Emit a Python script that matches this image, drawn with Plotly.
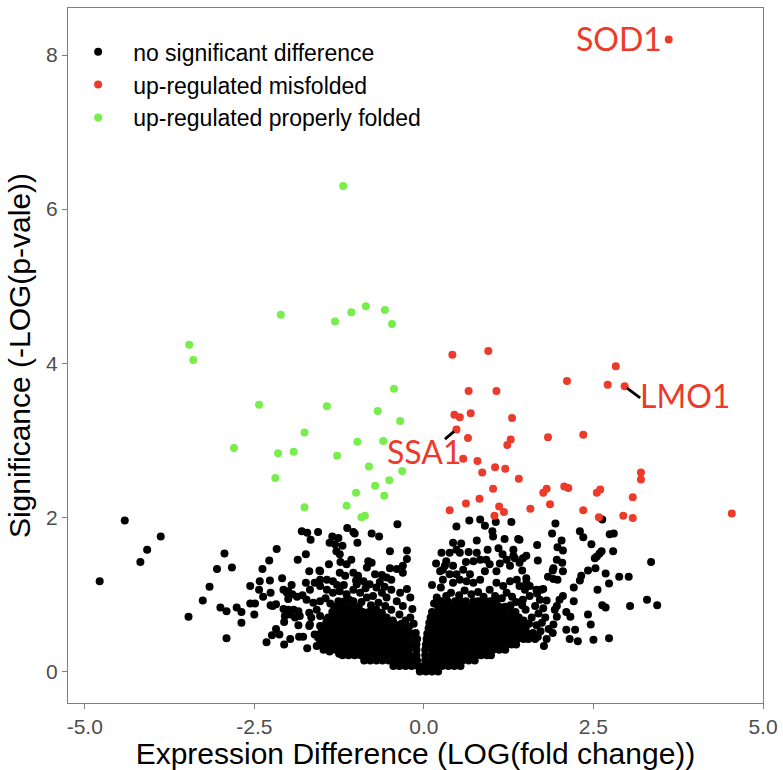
import plotly.graph_objects as go

# ---- up-regulated, properly folded (green) ----
pf_fc = [-1.19, -2.11, -1.31, -1.07, -0.855, -0.575, -0.47, -3.46, -3.40, -0.44,
         -2.43, -1.43, -0.68, -0.35, -1.76, -2.80, -2.15, -1.92, -1.28, -0.98,
         -0.60, -0.81, -0.32, -2.19, -0.51, -0.72, -1.00, -0.585, -1.76, -1.14,
         -0.92, -0.87]
pf_sig = [6.30, 4.63, 4.54, 4.66, 4.74, 4.69, 4.51, 4.24, 4.04, 3.67,
          3.46, 3.44, 3.38, 3.25, 3.10, 2.90, 2.83, 2.85, 2.80, 2.98,
          2.99, 2.66, 2.60, 2.51, 2.48, 2.41, 2.32, 2.28, 2.13, 2.15,
          2.00, 2.02]

# ---- up-regulated, misfolded (red) ----
mf_fc = [0.42, 0.95, 2.83, 2.11, 2.71, 0.66, 1.07, 0.45, 0.53, 0.69,
         1.30, 0.65, 1.28, 1.23, 1.83, 2.35, 0.58, 0.79, 1.05, 1.20,
         0.86, 1.40, 3.20, 3.20, 1.02, 1.76, 1.81, 2.07, 2.13, 2.55,
         2.60, 3.08, 0.62, 0.82, 1.86, 0.38, 1.11, 1.18, 1.57, 1.04,
         2.35, 2.58, 2.94, 3.08, 4.54]
mf_sig = [4.11, 4.16, 3.96, 3.77, 3.72, 3.64, 3.64, 3.33, 3.30, 3.35,
          3.29, 3.03, 3.01, 2.94, 3.04, 3.07, 2.76, 2.73, 2.65, 2.63,
          2.58, 2.50, 2.58, 2.49, 2.37, 2.32, 2.37, 2.40, 2.38, 2.32,
          2.36, 2.26, 2.18, 2.24, 2.17, 2.09, 2.14, 2.07, 2.11, 2.02,
          2.09, 2.00, 2.02, 1.99, 2.05]

# named misfolded genes
label_genes = ["SOD1", "LMO1", "SSA1"]
label_fc = [3.61, 2.96, 0.48]
label_sig = [8.20, 3.70, 3.14]

# ---- no significant difference (black) ----
ns_far_left = [
    (-4.78, 1.17), (-4.41, 1.96), (-4.18, 1.42), (-4.08, 1.58), (-3.88, 1.75),
    (-3.47, 0.71), (-3.26, 0.92), (-3.16, 1.10), (-3.05, 1.33), (-2.94, 1.53),
    (-2.83, 1.35), (-3.00, 0.83), (-2.91, 0.78), (-2.91, 0.43), (-2.76, 0.83),
    (-2.69, 0.77), (-2.69, 0.63), (-2.56, 1.11), (-2.56, 0.88), (-2.49, 0.88),
    (-2.50, 0.74), (-2.42, 1.17), (-2.43, 1.06), (-2.38, 1.33), (-2.28, 1.44),
    (-2.17, 1.59), (-2.37, 0.97), (-2.27, 1.18), (-2.26, 1.02), (-2.26, 0.86),
    (-2.18, 0.87), (-2.32, 0.38), (-2.24, 0.47), (-2.18, 0.55), (-2.13, 0.48),
    (-2.09, 1.21), (-2.07, 1.06), (-2.00, 1.04), (-1.95, 1.12), (-2.00, 0.94),
    (-1.94, 1.00), (-2.23, 0.85), (-2.07, 0.81), (-2.00, 0.80), (-1.92, 0.80),
    (-2.05, 0.72), (-1.97, 0.74), (-2.06, 0.64), (-1.97, 0.42), (-2.06, 0.35),
    (-2.02, 1.02),
]

ns_left_arm = [
    (-1.87, 0.97), (-1.86, 1.45), (-1.85, 0.60), (-1.84, 0.45), (-1.78, 0.45),
    (-1.72, 0.30), (-1.69, 0.59), (-1.58, 0.33), (-1.57, 0.46), (-1.90, 0.70),
    (-1.85, 0.78), (-1.83, 0.72), (-1.80, 1.82), (-1.72, 1.80), (-1.67, 1.71),
    (-1.56, 1.81), (-1.74, 1.52), (-1.69, 1.30), (-1.54, 1.31), (-1.74, 1.15),
    (-1.68, 1.06), (-1.61, 1.15), (-1.53, 1.19), (-1.43, 1.19), (-1.79, 0.99),
    (-1.73, 0.93), (-1.63, 0.89), (-1.53, 0.91), (-1.69, 0.76), (-1.66, 0.70),
    (-1.58, 0.80), (-1.53, 0.72), (-1.43, 0.67), (-1.68, 0.61), (-1.53, 0.59),
    (-1.43, 0.61), (-1.61, 0.48), (-1.56, 0.44), (-1.48, 0.50), (-1.41, 0.46),
    (-1.53, 0.37), (-1.41, 0.29), (-1.39, 0.26), (-1.25, 0.23), (-1.21, 0.23),
    (-0.39, 1.91), (-1.13, 1.86), (-1.04, 1.81), (-1.02, 1.79), (-0.77, 1.79),
    (-0.66, 1.75), (-1.35, 1.75), (-1.26, 1.73), (-1.39, 1.67), (-1.31, 1.65),
    (-1.20, 1.63), (-0.98, 1.67), (-1.29, 1.56), (-1.24, 1.52), (-0.50, 1.56),
    (-0.25, 1.57), (-0.25, 1.46), (-1.07, 1.45), (-1.14, 1.39), (-1.23, 1.42),
    (-0.82, 1.43), (-0.77, 1.41), (-0.84, 1.35), (-0.50, 1.34), (-0.40, 1.33),
    (-0.31, 1.37), (-0.31, 1.28), (-1.40, 1.39), (-0.72, 1.26), (-0.62, 1.25),
    (-0.55, 1.22), (-0.48, 1.19), (-1.04, 1.28), (-0.97, 1.24), (-0.89, 1.17),
    (-0.99, 1.13), (-1.53, 1.30), (-1.34, 1.17), (-1.24, 1.28), (-1.16, 1.24),
    (-0.25, 1.07), (-0.20, 0.96), (-0.17, 0.81), (-0.48, 1.06), (-0.35, 1.02),
    (-0.40, 0.91), (-0.31, 0.85), (-0.80, 1.13), (-0.70, 1.09), (-0.62, 1.02),
    (-0.55, 0.96), (-0.75, 0.98), (-0.67, 0.89), (-0.57, 0.85), (-0.48, 0.80),
    (-1.53, 1.11), (-1.43, 1.06), (-1.34, 1.02), (-1.24, 1.04), (-1.14, 1.00),
    (-1.04, 1.06), (-0.94, 1.02), (-0.84, 0.96), (-0.36, 0.74), (-0.27, 0.66),
    (-0.22, 0.58), (-0.15, 0.62), (-0.12, 0.50), (-1.45, 0.95), (-1.38, 0.88),
    (-1.18, 1.12), (-1.10, 0.93), (-0.92, 0.90), (-0.86, 1.08), (-0.78, 0.86),
    (-0.70, 0.80), (-0.62, 0.76), (-0.55, 0.70), (-0.46, 0.66), (-0.40, 0.60),
    (-0.33, 0.62), (-0.28, 0.55), (-1.00, 1.18), (-1.28, 1.12), (-0.65, 1.16),
    (-0.58, 1.10), (-0.20, 0.70), (-0.10, 0.42),
]

ns_right_arm = [
    (0.48, 1.88), (0.67, 1.96), (0.83, 1.97), (0.90, 1.89), (1.06, 1.94),
    (1.01, 1.82), (1.02, 1.75), (0.78, 1.70), (1.39, 1.72), (1.10, 1.60),
    (1.32, 1.58), (1.32, 1.50), (0.43, 1.67), (0.48, 1.58), (0.38, 1.54),
    (0.53, 1.54), (0.78, 1.54), (0.83, 1.45), (0.73, 1.43), (0.92, 1.45),
    (0.97, 1.39), (0.90, 1.30), (1.07, 1.30), (1.22, 1.45), (1.27, 1.37),
    (1.34, 1.47), (1.41, 1.41), (1.51, 1.50), (0.33, 1.43), (0.43, 1.37),
    (0.28, 1.32), (0.38, 1.26), (0.48, 1.26), (0.58, 1.32), (0.68, 1.26),
    (0.63, 1.17), (0.53, 1.19), (0.43, 1.15), (0.73, 1.15), (0.83, 1.19),
    (1.07, 1.15), (1.17, 1.11), (1.27, 1.17), (1.37, 1.19), (1.41, 1.11),
    (1.51, 1.15), (0.97, 1.06), (1.22, 1.02), (0.26, 1.54), (0.31, 1.37),
    (0.24, 1.30), (0.28, 1.19), (0.25, 1.09), (0.33, 0.98), (0.19, 0.96),
    (1.29, 1.94), (1.41, 1.71), (1.46, 1.47), (1.45, 1.31), (1.51, 1.21),
    (1.66, 1.06), (1.73, 1.06), (1.56, 1.11), (1.49, 1.06), (1.56, 0.98),
    (1.46, 0.93), (1.71, 0.93), (1.64, 0.85), (1.76, 0.82), (1.69, 0.75),
    (1.79, 0.70), (1.59, 0.70), (1.74, 0.63), (1.66, 0.60), (1.55, 0.62),
    (1.50, 0.80), (1.47, 0.66), (1.84, 0.55), (1.72, 0.52), (1.68, 0.45),
    (1.61, 0.50), (1.59, 0.46), (1.64, 0.42), (1.45, 0.48), (1.77, 0.33),
    (1.81, 0.42), (0.40, 1.02), (0.52, 0.99), (0.60, 1.05), (0.70, 1.00),
    (0.80, 1.03), (0.88, 0.97), (1.05, 0.98), (1.15, 0.95), (1.30, 0.97),
    (1.36, 0.90), (1.28, 0.86), (1.45, 0.86), (0.15, 0.88), (0.12, 1.12),
    (0.18, 1.40), (0.55, 1.66), (0.66, 1.55), (1.16, 1.52), (1.19, 1.72),
    (0.94, 1.58), (0.62, 1.42), (1.12, 1.40),
]

ns_far_right = [
    (1.94, 1.92), (1.89, 1.79), (2.30, 1.82), (2.35, 1.74), (2.63, 1.97),
    (2.74, 1.78), (2.80, 1.79), (1.67, 1.64), (2.03, 1.70), (1.97, 1.61),
    (2.05, 1.57), (2.47, 1.65), (2.62, 1.56), (2.59, 1.53), (2.79, 1.56),
    (1.68, 1.44), (1.96, 1.45), (2.04, 1.41), (2.52, 1.47), (2.55, 1.49),
    (1.91, 1.34), (1.90, 1.31), (2.05, 1.30), (2.42, 1.31), (2.53, 1.34),
    (2.68, 1.27), (2.88, 1.23), (3.02, 1.23), (1.83, 1.23), (1.91, 1.20),
    (1.97, 1.19), (2.32, 1.24), (2.30, 1.18), (2.73, 1.14), (2.21, 1.09),
    (2.56, 1.06), (1.76, 1.07), (1.67, 1.01), (2.05, 0.98), (2.00, 0.93),
    (1.81, 0.92), (2.21, 0.91), (2.63, 0.86), (2.68, 0.83), (3.04, 0.85),
    (1.96, 0.85), (1.93, 0.80), (2.10, 0.77), (2.16, 0.71), (2.42, 0.74),
    (1.96, 0.71), (1.91, 0.61), (2.46, 0.61), (1.90, 0.50), (2.10, 0.54),
    (2.23, 0.54), (2.15, 0.42), (2.27, 0.39), (2.50, 0.41), (2.73, 0.43),
    (3.35, 1.42), (3.29, 0.93), (3.44, 0.86),
]

# dense core near zero fold change: one significance level per row
core_sig = [0.00, 0.07, 0.14, 0.21, 0.28, 0.35, 0.42, 0.49, 0.56, 0.63,
            0.70, 0.77, 0.84, 0.91]
core_fc_rows = [
    [-0.06, 0.03, 0.12, 0.21],
    [-0.45, -0.36, -0.27, -0.18, -0.09, 0.00, 0.09, 0.18, 0.27, 0.36, 0.45, 0.54],
    [-0.88, -0.79, -0.70, -0.61, -0.52, -0.43, -0.34, -0.25, -0.16, -0.10,
     0.02, 0.12, 0.21, 0.30, 0.39, 0.48, 0.57, 0.66, 0.75],
    [-1.20, -1.11, -1.02, -0.93, -0.84, -0.75, -0.66, -0.57, -0.48, -0.39, -0.30,
     -0.21, -0.11, 0.02, 0.12, 0.21, 0.30, 0.39, 0.48, 0.57, 0.66, 0.75, 0.84,
     0.93, 0.99],
    [-1.48, -1.39, -1.30, -1.21, -1.12, -1.03, -0.94, -0.85, -0.76, -0.67, -0.58,
     -0.49, -0.40, -0.31, -0.22, -0.11, 0.02, 0.12, 0.21, 0.30, 0.39, 0.48, 0.57,
     0.66, 0.75, 0.84, 0.93, 1.02, 1.11, 1.20],
    [-1.53, -1.44, -1.35, -1.26, -1.17, -1.08, -0.99, -0.90, -0.81, -0.72, -0.63,
     -0.54, -0.45, -0.36, -0.27, -0.18, -0.11, 0.03, 0.12, 0.21, 0.30, 0.39, 0.48,
     0.57, 0.66, 0.75, 0.84, 0.93, 1.02, 1.11, 1.20, 1.29, 1.36],
    [-1.50, -1.41, -1.32, -1.23, -1.14, -1.05, -0.96, -0.87, -0.78, -0.69, -0.60,
     -0.51, -0.42, -0.33, -0.24, -0.13, 0.04, 0.12, 0.21, 0.30, 0.39, 0.48, 0.57,
     0.66, 0.75, 0.84, 0.93, 1.02, 1.11, 1.20, 1.29, 1.38, 1.47, 1.54],
    [-1.53, -1.44, -1.35, -1.26, -1.17, -1.08, -0.99, -0.90, -0.81, -0.72, -0.63,
     -0.54, -0.45, -0.36, -0.27, -0.18, 0.05, 0.12, 0.21, 0.30, 0.39, 0.48, 0.57,
     0.66, 0.75, 0.84, 0.93, 1.02, 1.11, 1.20, 1.29, 1.38, 1.47, 1.53],
    [-1.50, -1.41, -1.32, -1.23, -1.14, -1.05, -0.96, -0.87, -0.78, -0.69, -0.60,
     -0.51, -0.42, -0.33, -0.24, 0.07, 0.17, 0.26, 0.35, 0.44, 0.53, 0.62, 0.71,
     0.80, 0.89, 0.98, 1.07, 1.16, 1.25, 1.34, 1.43, 1.50],
    [-1.44, -1.35, -1.26, -1.17, -1.08, -0.99, -0.90, -0.81, -0.72, -0.63, -0.54,
     -0.45, 0.08, 0.12, 0.21, 0.30, 0.39, 0.48, 0.57, 0.66, 0.75, 0.84, 0.93,
     1.02, 1.11, 1.20, 1.29, 1.38, 1.45],
    [-1.41, -1.32, -1.23, -1.14, -1.05, -0.96, -0.87, -0.78, -0.69, -0.60, 0.10,
     0.17, 0.26, 0.35, 0.44, 0.53, 0.62, 0.71, 0.80, 0.89, 0.98, 1.07, 1.16,
     1.25, 1.34, 1.40],
    [-1.35, -1.26, -1.17, -1.08, -0.99, -0.90, -0.81, -0.72, 0.12, 0.21, 0.30,
     0.39, 0.48, 0.57, 0.66, 0.75, 0.84, 0.93, 1.02, 1.11, 1.20, 1.29, 1.35],
    [-1.32, -1.23, -1.14, -1.05, -0.96, 0.21, 0.30, 0.39, 0.48, 0.57,
     0.66, 0.75, 0.84, 0.93, 1.02, 1.11, 1.20],
    [-1.26, -1.17, -1.04, 0.26, 0.35, 0.46, 0.55, 0.62, 0.73, 0.80, 0.91,
     0.98, 1.07],
]

x_ticks = [-5.0, -2.5, 0.0, 2.5, 5.0]
y_ticks = [0, 2, 4, 6, 8]

RED = "#EC3A2B"
GREEN = "#77EE4B"
AXIS_GREY = "#7F7F7F"
TICK_TEXT = "#4D4D4D"

# assemble the black series
ns_fc, ns_sig = [], []
for group in (ns_far_left, ns_left_arm, ns_right_arm, ns_far_right):
    for fc, sig in group:
        ns_fc.append(fc)
        ns_sig.append(sig)
for sig, row in zip(core_sig, core_fc_rows):
    for fc in row:
        ns_fc.append(fc)
        ns_sig.append(sig)

fig = go.Figure()
fig.add_trace(go.Scatter(
    x=ns_fc, y=ns_sig, mode="markers", name="no significant difference",
    marker=dict(color="black", size=8, line=dict(width=0)),
))
fig.add_trace(go.Scatter(
    x=mf_fc + label_fc, y=mf_sig + label_sig, mode="markers",
    name="up-regulated misfolded",
    marker=dict(color=RED, size=8, line=dict(width=0)),
))
fig.add_trace(go.Scatter(
    x=pf_fc, y=pf_sig, mode="markers", name="up-regulated properly folded",
    marker=dict(color=GREEN, size=8, line=dict(width=0)),
))

# gene labels: text placed beside the point, short leader segments
label_font = dict(family="Lato", size=32, color=RED)
label_shift = [(-5, 1, "right"), (60, -9, "center"), (-32, -22, "center")]
for gene, fc, sig, (dx, dy, anchor) in zip(label_genes, label_fc, label_sig,
                                           label_shift):
    fig.add_annotation(x=fc, y=sig, text=gene, showarrow=False,
                       xanchor=anchor, xshift=dx, yshift=dy, font=label_font)

# leader segments (tail offset in pixels from the labelled point)
leader_offsets = {"LMO1": (16, 12), "SSA1": (-12, 10)}
for gene, fc, sig in zip(label_genes, label_fc, label_sig):
    if gene in leader_offsets:
        ax, ay = leader_offsets[gene]
        fig.add_annotation(x=fc, y=sig, text=" ", font=dict(size=1),
                           showarrow=True, arrowhead=0, arrowwidth=2.8,
                           arrowcolor="black", ax=ax, ay=ay, standoff=3,
                           borderpad=0)

axis_common = dict(
    showgrid=False, zeroline=False, showline=True, mirror=True,
    linecolor=AXIS_GREY, linewidth=1.2, ticks="outside", ticklen=5,
    tickcolor=AXIS_GREY, tickwidth=1.2, automargin=False,
    tickfont=dict(family="Liberation Sans", size=21, color=TICK_TEXT),
)

fig.update_layout(
    width=783, height=770,
    margin=dict(l=68, r=20, t=8, b=67),
    paper_bgcolor="white", plot_bgcolor="white",
    font=dict(family="Liberation Sans", color="black"),
    xaxis=dict(range=[-5.247, 5.0], tickvals=x_ticks,
               ticktext=[f"{v:.1f}" for v in x_ticks],
               title=dict(text="Expression Difference (LOG(fold change))",
                          font=dict(size=30, color="black"), standoff=5),
               **axis_common),
    yaxis=dict(range=[-0.41, 8.61], tickvals=y_ticks,
               ticktext=[str(v) for v in y_ticks],
               title=dict(text="Significance (-LOG(p-vale))",
                          font=dict(size=30, color="black"), standoff=6),
               **axis_common),
    legend=dict(x=-0.007, y=0.968, xanchor="left", yanchor="top",
                bgcolor="rgba(0,0,0,0)", itemwidth=60,
                font=dict(family="Liberation Sans", size=23, color="black")),
    showlegend=True,
)

fig.write_html("out.html")
